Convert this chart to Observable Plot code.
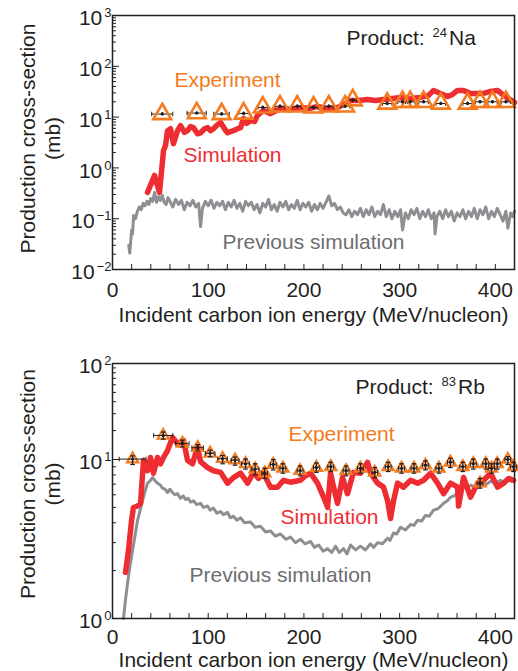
<!DOCTYPE html>
<html>
<head>
<meta charset="utf-8">
<script src="https://cdn.jsdelivr.net/npm/d3@7"></script>
<script src="https://cdn.jsdelivr.net/npm/@observablehq/plot@0.6"></script>
<style>
  html, body { margin: 0; padding: 0; background: #fff; }
  #chart svg { display: block; }
</style>
</head>
<body>
<div id="chart"></div>
<script>
// ---------------- data ----------------
const xTickLabels = [0, 100, 200, 300, 400];

// Top panel: 24Na
const naSimE = [36.6, 43.9, 49.1, 53.3, 55.4, 57.5, 60.6, 63.7, 67.9, 71.1, 75.2, 78.4, 81.5, 84.6, 88.8, 92.0, 96.1, 99.3, 102.4, 105.5, 109.7, 112.9, 117.0, 120.2, 123.3, 126.4, 130.6, 133.8, 136.9, 140.0, 144.2, 148.4, 151.5, 157.8, 165.1, 171.4, 178.7, 186.0, 196.4, 206.9, 214.2, 222.6, 235.1, 241.4, 248.7, 257.1, 266.5, 274.8, 283.2, 292.6, 301.0, 311.4, 321.8, 330.2, 335.4, 342.7, 350.1, 355.3, 360.5, 366.8, 374.1, 381.4, 387.7, 395.0, 402.3, 408.6, 413.8, 420.0];
const naSimV = [0.33, 0.71, 0.33, 2.2, 2.75, 5.4, 5.9, 3.0, 5.4, 6.8, 5.0, 5.4, 6.5, 6.2, 4.7, 4.9, 5.9, 6.2, 5.4, 5.9, 7.1, 7.8, 5.9, 4.9, 5.2, 5.4, 5.9, 6.2, 9.4, 7.5, 8.6, 8.2, 10.8, 13.5, 11.7, 13.5, 14.8, 14.1, 15.4, 14.8, 16.2, 14.8, 15.4, 17.6, 21.2, 21.2, 22.3, 21.2, 22.3, 23.3, 24.4, 23.3, 24.4, 26.7, 33.5, 29.2, 25.5, 27.9, 33.5, 33.5, 29.2, 29.2, 29.2, 32.0, 33.5, 26.7, 23.3, 19.4];

const naPrevE = [17, 18, 19, 20, 21, 22, 24, 26, 28, 30,
  32, 34, 36, 38, 40, 42, 44, 46, 48, 50,
  52, 54, 56, 58, 60, 63, 66, 69, 72, 75,
  78, 81, 84, 87, 90, 92, 94, 97, 100, 103,
  106, 109, 112, 115, 118, 121, 124, 127, 130, 133,
  136, 139, 142, 145, 148, 151, 154, 157, 160, 163,
  166, 169, 172, 175, 178, 181, 184, 187, 190, 193,
  196, 199, 202, 205, 208, 211, 214, 217, 220, 223,
  226, 229, 232, 235, 238, 241, 244, 247, 250, 253,
  256, 259, 262, 265, 268, 271, 274, 277, 280, 283,
  286, 289, 292, 295, 298, 301, 303, 306, 309, 312,
  315, 318, 321, 324, 327, 330, 333, 336, 337, 339,
  342, 345, 348, 351, 354, 357, 360, 363, 366, 369,
  372, 375, 378, 381, 384, 387, 390, 393, 396, 399,
  402, 405, 408, 411, 413, 416, 418, 420];
const naPrevV = [0.030, 0.021, 0.035, 0.060, 0.050, 0.115, 0.10, 0.14, 0.17, 0.15,
  0.20, 0.18, 0.22, 0.19, 0.25, 0.22, 0.33, 0.21, 0.27, 0.23,
  0.29, 0.21, 0.19, 0.26, 0.22, 0.17, 0.24, 0.19, 0.23, 0.15,
  0.21, 0.18, 0.23, 0.17, 0.20, 0.07, 0.16, 0.22, 0.18, 0.23,
  0.16, 0.21, 0.18, 0.22, 0.15, 0.21, 0.17, 0.23, 0.16, 0.20,
  0.14, 0.22, 0.18, 0.21, 0.15, 0.19, 0.13, 0.20, 0.17, 0.24,
  0.15, 0.19, 0.14, 0.21, 0.17, 0.22, 0.15, 0.19, 0.16, 0.23,
  0.15, 0.20, 0.17, 0.21, 0.14, 0.19, 0.15, 0.20, 0.16, 0.21,
  0.28, 0.18, 0.20, 0.15, 0.17, 0.13, 0.12, 0.15, 0.11, 0.14,
  0.12, 0.16, 0.11, 0.15, 0.12, 0.17, 0.11, 0.14, 0.12, 0.19,
  0.11, 0.15, 0.10, 0.14, 0.11, 0.15, 0.06, 0.13, 0.10, 0.15,
  0.12, 0.16, 0.10, 0.14, 0.11, 0.15, 0.10, 0.13, 0.05, 0.11,
  0.14, 0.10, 0.15, 0.11, 0.14, 0.09, 0.13, 0.11, 0.15, 0.10,
  0.14, 0.11, 0.16, 0.10, 0.15, 0.12, 0.17, 0.10, 0.14, 0.11,
  0.16, 0.12, 0.09, 0.14, 0.065, 0.13, 0.11, 0.14];

const naExpE = [52, 88, 114, 137, 157, 175, 193, 210, 226, 243, 251, 287, 303, 311, 325, 343, 371, 384, 397, 411];
const naExpV = [11.5, 12.0, 11.5, 11.8, 15.5, 16.3, 16.3, 15.5, 16.3, 16.3, 21.5, 18.5, 20.0, 20.0, 20.0, 18.5, 18.5, 20.0, 20.0, 20.0];
const naExpXerr = [11, 10, 8, 6, 5, 5, 5, 5, 5, 5, 4, 5, 5, 5, 5, 5, 5, 5, 5, 5];
const naExpYerr = [0.8, 0.8, 0.8, 0.8, 1.0, 1.0, 1.0, 1.0, 1.0, 1.0, 1.4, 1.2, 1.2, 1.2, 1.2, 1.2, 1.2, 1.2, 1.2, 1.2];

// Bottom panel: 83Rb
const rbSimE = [13.6, 16.7, 19.9, 21.9, 26.1, 29.3, 32.4, 36.6, 39.7, 42.8, 47.0, 50.2, 53.3, 57.5, 62.7, 67.9, 74.2, 78.4, 83.6, 88.8, 92.0, 99.3, 105.5, 112.9, 120.2, 126.4, 133.8, 141.1, 147.3, 152.6, 157.8, 165.1, 172.4, 178.7, 186.0, 196.4, 201.7, 206.9, 214.2, 220.5, 224.7, 227.8, 231.0, 235.1, 240.3, 245.5, 251.8, 259.1, 266.5, 269.6, 276.9, 283.2, 287.4, 290.5, 293.6, 297.8, 304.0, 311.4, 318.7, 325.0, 332.3, 339.6, 345.9, 353.2, 360.5, 361.6, 366.8, 374.1, 381.4, 387.7, 395.0, 402.3, 408.6, 413.8, 419.0];
const rbSimV = [1.95, 2.68, 4.13, 4.99, 5.1, 5.3, 9.9, 8.5, 10.5, 8.2, 10.5, 9.4, 10.5, 12.4, 17.0, 14.7, 15.8, 9.9, 9.4, 13.4, 9.7, 8.9, 8.5, 8.3, 7.1, 7.7, 8.2, 7.1, 8.3, 7.6, 8.2, 6.7, 6.7, 7.4, 7.2, 7.4, 7.9, 8.2, 7.1, 5.8, 5.0, 8.2, 6.7, 5.3, 7.7, 6.1, 8.3, 8.2, 9.6, 8.2, 7.1, 6.7, 5.5, 4.26, 5.5, 7.1, 6.7, 7.4, 7.1, 7.4, 8.2, 7.1, 6.1, 7.1, 6.7, 5.1, 7.7, 5.8, 7.1, 7.4, 8.2, 6.7, 7.1, 7.6, 7.4];

const rbPrevE = [11.5, 13.5, 15.7, 18, 20.9, 23.5, 26.1, 28.5, 31.3, 34, 36.6, 39, 41.8, 44.9, 47, 50, 52.2, 55, 57.5, 60, 62.7, 65, 67.9, 71.1, 74, 76.3, 79, 81.5, 84.6, 88, 92, 95, 99.3, 102, 105.5, 109, 112.9, 116, 120.2, 123, 126.4, 130, 133.8, 138, 144.2, 149, 154.6, 160, 165.1, 170, 175.5, 181, 186, 191, 196.4, 201, 206.9, 211, 215.3, 220, 224.7, 229, 233, 237, 241.4, 245, 248.7, 254, 259.1, 264, 269.6, 273, 276.9, 282, 287.4, 290, 293.6, 297, 300.9, 306, 311.4, 315, 318.7, 323, 327, 331, 335.4, 340, 345.9, 350, 353.2, 357, 360.5, 364, 366.8, 370, 374.1, 378, 381.4, 385, 387.7, 391, 395, 400, 405.4, 409, 412.7, 416, 419];
const rbPrevV = [1.0, 1.3, 1.66, 2.1, 2.68, 3.3, 4.13, 4.7, 5.5, 6.3, 7.1, 7.3, 7.7, 7.3, 7.1, 6.9, 6.6, 6.5, 6.2, 6.5, 6.2, 6.0, 6.1, 5.7, 5.9, 5.6, 5.7, 5.4, 5.5, 5.2, 5.3, 5.0, 5.1, 4.8, 4.95, 4.6, 4.7, 4.5, 4.65, 4.3, 4.4, 4.15, 4.3, 4.0, 4.05, 3.75, 3.8, 3.5, 3.55, 3.3, 3.4, 3.15, 3.25, 3.0, 3.15, 2.95, 3.05, 2.8, 2.9, 2.65, 2.75, 2.6, 2.85, 2.6, 2.75, 2.55, 2.9, 2.7, 2.85, 2.7, 2.95, 2.8, 3.0, 2.95, 3.2, 3.1, 3.45, 3.4, 3.75, 3.6, 3.9, 3.85, 4.15, 4.1, 4.45, 4.4, 4.8, 4.9, 5.3, 5.5, 5.8, 5.9, 6.2, 6.4, 6.7, 6.6, 6.9, 6.7, 7.0, 6.8, 7.1, 7.0, 7.3, 7.1, 7.4, 7.2, 7.6, 7.3, 7.4];

const rbExpE = [21, 53, 73, 89, 102, 115, 128, 139, 149, 159, 168, 178, 196, 213, 228, 244, 259, 274, 288, 302, 315, 327, 341, 353, 366, 377, 384, 390, 396, 402, 413, 419];
const rbExpV = [10.1, 17.8, 14.7, 13.3, 11.6, 10.2, 9.9, 9.4, 8.7, 8.2, 9.3, 8.8, 8.5, 8.9, 9.0, 8.5, 8.8, 8.3, 9.0, 8.8, 8.8, 9.2, 8.8, 9.6, 9.0, 9.4, 7.1, 9.4, 8.8, 9.4, 10.0, 9.0];
const rbExpXerr = [14, 10, 7, 6, 5, 5, 4, 4, 4, 3, 3, 3, 3, 3, 3, 3, 3, 3, 3, 3, 3, 3, 3, 3, 3, 3, 3, 3, 3, 3, 3, 3];
const rbExpYerr = [0.8, 1.5, 1.2, 1.0, 0.9, 0.8, 0.7, 0.7, 0.7, 0.6, 0.7, 0.6, 0.6, 0.6, 0.6, 0.6, 0.6, 0.6, 0.6, 0.6, 0.6, 0.6, 0.6, 0.7, 0.6, 0.7, 0.5, 0.7, 0.6, 0.7, 0.7, 0.6];

// ---------------- styling ----------------
const RED = "#ee2d32", GRAY = "#8e8f92", ORANGE = "#f47b20", LABELGRAY = "#6d6e71", DARK = "#231f20";
const FONT = "'Liberation Sans', Arial, Helvetica, sans-serif";

const vbar = {draw(ctx, size) { const h = Math.sqrt(size) / 2; ctx.moveTo(0, -h); ctx.lineTo(0, h); }};
const hbar = {draw(ctx, size) { const h = Math.sqrt(size) / 2; ctx.moveTo(-h, 0); ctx.lineTo(h, 0); }};

const supFmt = d => { const e = Math.round(Math.log10(d)); return "10{" + (e < 0 ? "\u2212" + (-e) : e) + "}"; };
const logMinor = majors => majors.slice(0, -1).flatMap(m => d3.range(2, 10).map(k => m * k));
const xMinorTicks = d3.range(0, 421, 20);

function zip(E, V) { return E.map((e, i) => ({e, v: V[i]})); }
function zipExp(E, V, XE, YE) { return E.map((e, i) => ({e, v: V[i], xe: XE[i], ye: YE[i]})); }

function panel(cfg) {
  const sim = zip(cfg.simE, cfg.simV);
  const prev = zip(cfg.prevE, cfg.prevV);
  const exp = zipExp(cfg.expE, cfg.expV, cfg.expXerr, cfg.expYerr);
  const errMarks = [
    Plot.ruleY(exp, {y: "v", x1: d => d.e - d.xe, x2: d => d.e + d.xe, stroke: DARK, strokeWidth: 1}),
    Plot.dot(exp, {x: d => d.e - d.xe, y: "v", symbol: vbar, r: 2.6, stroke: DARK, strokeWidth: 1, fill: "none"}),
    Plot.dot(exp, {x: d => d.e + d.xe, y: "v", symbol: vbar, r: 2.6, stroke: DARK, strokeWidth: 1, fill: "none"}),
    Plot.ruleX(exp, {x: "e", y1: d => d.v - d.ye, y2: d => d.v + d.ye, stroke: DARK, strokeWidth: 1.3}),
    ...(cfg.yCaps ? [
      Plot.dot(exp, {x: "e", y: d => d.v + d.ye, symbol: hbar, r: 2.6, stroke: DARK, strokeWidth: 1.2, fill: "none"}),
      Plot.dot(exp, {x: "e", y: d => d.v - d.ye, symbol: hbar, r: 2.6, stroke: DARK, strokeWidth: 1.2, fill: "none"})
    ] : [])
  ];
  const tri = Plot.dot(exp, {x: "e", y: "v", symbol: "triangle", r: cfg.triR, stroke: ORANGE, strokeWidth: cfg.triW, fill: "none"});
  const label = (txt, dx, dy, fill, anchor = "middle") =>
    Plot.text([txt], {text: d => d, frameAnchor: "top-left", dx, dy, textAnchor: anchor, lineAnchor: "middle", fill, fontSize: 21});
  return Plot.plot({
    width: 518,
    height: cfg.height,
    marginTop: cfg.marginTop,
    marginBottom: cfg.marginBottom,
    marginLeft: 112,
    marginRight: 4,
    style: {fontFamily: FONT, fontSize: "21px", background: "#fff", color: DARK},
    x: {domain: [0, 420]},
    y: cfg.y,
    marks: [
      Plot.axisX({ticks: xMinorTicks, tickSize: -5, tickFormat: () => "", label: null, stroke: DARK}),
      Plot.axisX({ticks: xTickLabels, tickSize: 0, tickPadding: cfg.xPad, label: null, fill: DARK, fontSize: 21}),
      Plot.axisY({ticks: logMinor(cfg.yMajor), tickSize: -4, tickFormat: () => "", label: null, stroke: DARK}),
      Plot.axisY({ticks: cfg.yMajor, tickSize: -7, tickFormat: () => "", label: null, stroke: DARK}),
      Plot.axisY({ticks: cfg.yMajor, tickSize: 0, tickPadding: 1, tickFormat: supFmt, label: null, fill: DARK, fontSize: 21, dy: 3}),
      Plot.line(prev, {x: "e", y: "v", stroke: GRAY, strokeWidth: 3, strokeLinejoin: "round"}),
      Plot.line(sim, {x: "e", y: "v", stroke: RED, strokeWidth: 5.5, strokeLinejoin: "round"}),
      ...(cfg.barsOnTop ? [tri, ...errMarks] : [...errMarks, tri]),
      Plot.dot(exp, {x: "e", y: "v", r: 1.7, fill: DARK}),
      Plot.text(["Production cross-section"], {text: d => d, frameAnchor: "left", dx: -84, dy: cfg.yTitleDy, rotate: -90, textAnchor: "middle", lineAnchor: "middle", fill: DARK, fontSize: 21}),
      Plot.text(["(mb)"], {text: d => d, frameAnchor: "left", dx: -59, dy: cfg.yTitleDy, rotate: -90, textAnchor: "middle", lineAnchor: "middle", fill: DARK, fontSize: 21}),
      Plot.text(["Incident carbon ion energy (MeV/nucleon)"], {text: d => d, frameAnchor: "bottom", dy: cfg.xTitleDy, textAnchor: "middle", lineAnchor: "middle", fill: DARK, fontSize: 21}),
      label(cfg.product, cfg.prodPos[0], cfg.prodPos[1], DARK, "start"),
      label("Experiment", cfg.expPos[0], cfg.expPos[1], ORANGE),
      label("Simulation", cfg.simPos[0], cfg.simPos[1], RED),
      label("Previous simulation", cfg.prevPos[0], cfg.prevPos[1], LABELGRAY),
      Plot.frame({stroke: DARK, strokeWidth: 1.5})
    ]
  });
}

function supify(svg) {
  d3.select(svg).selectAll("text").each(function () {
    const t = this.textContent;
    if (!t.includes("{")) return;
    const parts = t.split(/(\{[^}]*\})/).filter(s => s.length);
    const sel = d3.select(this);
    sel.text(null);
    let raised = false;
    for (const p of parts) {
      if (p.startsWith("{")) {
        sel.append("tspan").attr("font-size", 13).attr("dy", -8).attr("dx", 2).text(p.slice(1, -1));
        raised = true;
      } else {
        const ts = sel.append("tspan").text(p);
        if (raised) { ts.attr("dy", 8).attr("dx", 2); raised = false; }
      }
    }
  });
}

const topChart = panel({
  height: 336, marginTop: 15, marginBottom: 67,
  y: {type: "log", domain: [0.01, 1000]},
  yMajor: [0.01, 0.1, 1, 10, 100, 1000],
  simE: naSimE, simV: naSimV, prevE: naPrevE, prevV: naPrevV,
  expE: naExpE, expV: naExpV, expXerr: naExpXerr, expYerr: naExpYerr,
  triR: 6.6, triW: 2.6, barsOnTop: false, yCaps: false,
  xPad: 13, xTitleDy: 46, yTitleDy: -4,
  product: "Product: {24}Na", prodPos: [234, 23],
  expPos: [115, 65], simPos: [120, 140], prevPos: [201, 227]
});

const bottomChart = panel({
  height: 335, marginTop: 27, marginBottom: 53,
  y: {type: "log", domain: [1, 10, 100], range: [282, 123, 27]},
  yMajor: [1, 10, 100],
  simE: rbSimE, simV: rbSimV, prevE: rbPrevE, prevV: rbPrevV,
  expE: rbExpE, expV: rbExpV, expXerr: rbExpXerr, expYerr: rbExpYerr,
  triR: 4.2, triW: 2.2, barsOnTop: true, yCaps: true,
  xPad: 11, xTitleDy: 42, yTitleDy: -7,
  product: "Product: {83}Rb", prodPos: [243, 24],
  expPos: [229, 71], simPos: [217, 154], prevPos: [168, 212]
});

const host = document.getElementById("chart");
host.append(topChart, bottomChart);
supify(topChart);
supify(bottomChart);
</script>
</body>
</html>
